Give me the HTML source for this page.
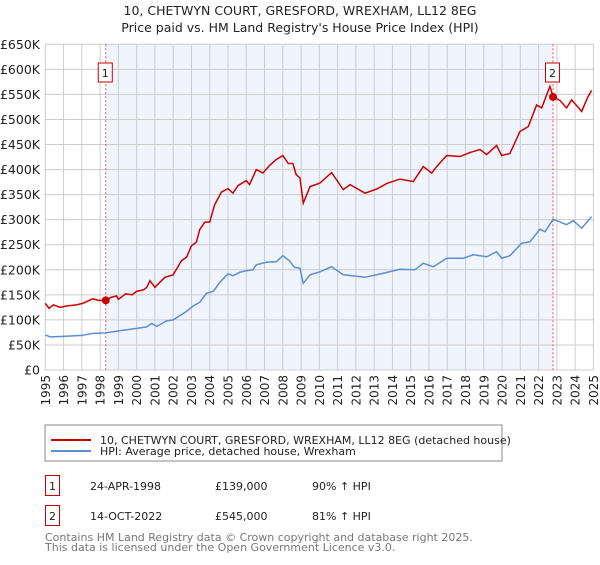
<!DOCTYPE html>
<html><head><meta charset="utf-8"><style>
body{margin:0;background:#fff;font-family:"Liberation Sans","DejaVu Sans",sans-serif;}
svg text{font-family:"DejaVu Sans","Liberation Sans",sans-serif;}
</style></head><body>
<svg id="c" width="600" height="560" viewBox="0 0 600 560" xmlns="http://www.w3.org/2000/svg">
<text x="300" y="15" text-anchor="middle" font-size="12.5" fill="#222">10, CHETWYN COURT, GRESFORD, WREXHAM, LL12 8EG</text>
<text x="300" y="32" text-anchor="middle" font-size="12.5" fill="#222">Price paid vs. HM Land Registry's House Price Index (HPI)</text>
<g id="plot"></g>
<rect x="45" y="425" width="457" height="36" fill="#fff" stroke="#888"/>
<line x1="51" y1="440" x2="91" y2="440" stroke="#cc0000" stroke-width="2"/>
<text x="100" y="444" font-size="11" fill="#222">10, CHETWYN COURT, GRESFORD, WREXHAM, LL12 8EG (detached house)</text>
<line x1="51" y1="451" x2="91" y2="451" stroke="#5b8fd4" stroke-width="2"/>
<text x="100" y="455" font-size="11" fill="#222">HPI: Average price, detached house, Wrexham</text>
<rect x="45.5" y="475.5" width="14" height="20" fill="#fff" stroke="#cc0000"/>
<text x="52.5" y="490" text-anchor="middle" font-size="11" fill="#222">1</text>
<text x="90" y="490" font-size="11" fill="#222">24-APR-1998</text>
<text x="215" y="490" font-size="11" fill="#222">£139,000</text>
<text x="312" y="490" font-size="11" fill="#222">90% ↑ HPI</text>
<rect x="45.5" y="505.5" width="14" height="20" fill="#fff" stroke="#cc0000"/>
<text x="52.5" y="520" text-anchor="middle" font-size="11" fill="#222">2</text>
<text x="90" y="520" font-size="11" fill="#222">14-OCT-2022</text>
<text x="215" y="520" font-size="11" fill="#222">£545,000</text>
<text x="312" y="520" font-size="11" fill="#222">81% ↑ HPI</text>
<text x="45" y="541" font-size="11" fill="#777">Contains HM Land Registry data © Crown copyright and database right 2025.</text>
<text x="45" y="551" font-size="11" fill="#777">This data is licensed under the Open Government Licence v3.0.</text>
</svg>
<script>
const yTicks=[0,50,100,150,200,250,300,350,400,450,500,550,600,650];
const yTickLabels=["£0","£50K","£100K","£150K","£200K","£250K","£300K","£350K","£400K","£450K","£500K","£550K","£600K","£650K"];
const years=[1995,1996,1997,1998,1999,2000,2001,2002,2003,2004,2005,2006,2007,2008,2009,2010,2011,2012,2013,2014,2015,2016,2017,2018,2019,2020,2021,2022,2023,2024,2025];
const saleDates=[1998.31,2022.79];
const salePrices=[139,545];
const saleLabels=["1","2"];
const propertyDates=[1995.0,1995.2,1995.45,1995.8,1996.2,1996.7,1997.05,1997.6,1997.9,1998.31,1998.6,1998.9,1999.0,1999.4,1999.75,2000.0,2000.37,2000.55,2000.73,2001.0,2001.27,2001.55,2002.0,2002.45,2002.73,2003.0,2003.27,2003.45,2003.73,2004.0,2004.27,2004.64,2005.0,2005.27,2005.55,2006.0,2006.18,2006.55,2006.91,2007.27,2007.64,2008.0,2008.3,2008.55,2008.73,2008.94,2009.12,2009.49,2010.03,2010.67,2011.31,2011.68,2012.5,2013.14,2013.68,2014.41,2015.14,2015.69,2016.15,2016.42,2016.97,2017.7,2018.24,2018.79,2019.16,2019.7,2019.98,2020.43,2020.98,2021.44,2021.89,2022.17,2022.62,2022.79,2023.17,2023.53,2023.81,2024.36,2024.67,2024.9];
const propertyValues=[133,123,130,125,128,130,133,142,139,139,145,148,141,152,150,157,160,165,178,165,175,185,190,218,225,248,255,280,295,295,330,355,362,353,368,378,370,400,393,408,420,428,412,412,390,383,333,366,373,394,360,370,353,361,372,381,376,406,393,406,428,426,434,440,430,448,428,432,476,486,529,523,566,545,538,523,539,516,543,558];
const hpiDates=[1995.0,1995.27,1996.0,1997.0,1997.6,1998.3,1998.85,1999.4,2000.2,2000.55,2000.82,2001.1,2001.64,2002.0,2002.73,2003.1,2003.45,2003.82,2004.2,2004.55,2005.0,2005.27,2005.64,2006.0,2006.36,2006.55,2007.1,2007.64,2008.0,2008.36,2008.64,2008.94,2009.12,2009.49,2010.03,2010.67,2011.31,2012.5,2013.5,2014.41,2015.23,2015.69,2016.24,2016.97,2017.88,2018.43,2019.16,2019.7,2019.98,2020.43,2021.07,2021.53,2022.08,2022.35,2022.8,2023.53,2023.9,2024.36,2024.9];
const hpiValues=[70,66,67,69,73,74,77,80,84,86,93,87,98,100,117,128,135,153,157,175,192,188,195,198,200,210,215,216,228,218,205,203,173,190,196,206,190,185,193,201,200,213,206,223,223,230,226,236,223,228,253,256,281,276,301,290,298,283,306];
const X0=45.3,X1=593.4,Y0=370,Y1=44.3;
const xs=y=>X0+(y-1995)*(X1-X0)/30;
const ys=v=>Y0-v*(Y0-Y1)/650;
const NS="http://www.w3.org/2000/svg";
const plot=document.getElementById('plot');
function mk(tag,attrs){const e=document.createElementNS(NS,tag);for(const k in attrs)e.setAttribute(k,attrs[k]);plot.appendChild(e);return e;}
let sh=mk('rect',{x:xs(saleDates[0]),y:Y1,width:xs(saleDates[1])-xs(saleDates[0]),height:Y0-Y1,fill:'#f0f4fc'});


years.forEach(y=>{const g=mk('line',{x1:xs(y),x2:xs(y),y1:Y1,y2:Y0,stroke:'#cccccc','stroke-width':1});


const t=mk('text',{x:0,y:0,'font-size':12,fill:'#222','text-anchor':'end',transform:`translate(${xs(y)+4.5},${Y0+5}) rotate(-90)`});t.textContent=y;

});
yTicks.forEach((v,i)=>{const g=mk('line',{x1:X0,x2:X1,y1:ys(v),y2:ys(v),stroke:'#cccccc','stroke-width':1});


const t=mk('text',{x:40,y:ys(v)+4.5,'font-size':12.5,fill:'#222','text-anchor':'end'});t.textContent=yTickLabels[i];

});
saleDates.forEach((d,i)=>{const l=mk('line',{x1:xs(d),x2:xs(d),y1:Y1,y2:Y0,stroke:'#e05555','stroke-width':1,'stroke-dasharray':'2,2'});

});
const hp=mk('polyline',{points:hpiDates.map((d,i)=>xs(d)+','+ys(hpiValues[i])).join(' '),fill:'none',stroke:'#5b8fd4','stroke-width':1.5});


const pp=mk('polyline',{points:propertyDates.map((d,i)=>xs(d)+','+ys(propertyValues[i])).join(' '),fill:'none',stroke:'#cc0000','stroke-width':1.5});


saleDates.forEach((d,i)=>{const c=mk('circle',{cx:xs(d),cy:ys(salePrices[i]),r:4,fill:'#cc0000'});


const bx=xs(d)-7.5;const r=mk('rect',{x:bx,y:63,width:14,height:19,fill:'#fff',stroke:'#cc0000'});


const t=mk('text',{x:xs(d)-0.5,y:77,'font-size':11,fill:'#222','text-anchor':'middle'});t.textContent=saleLabels[i];

});
</script>
</body></html>
